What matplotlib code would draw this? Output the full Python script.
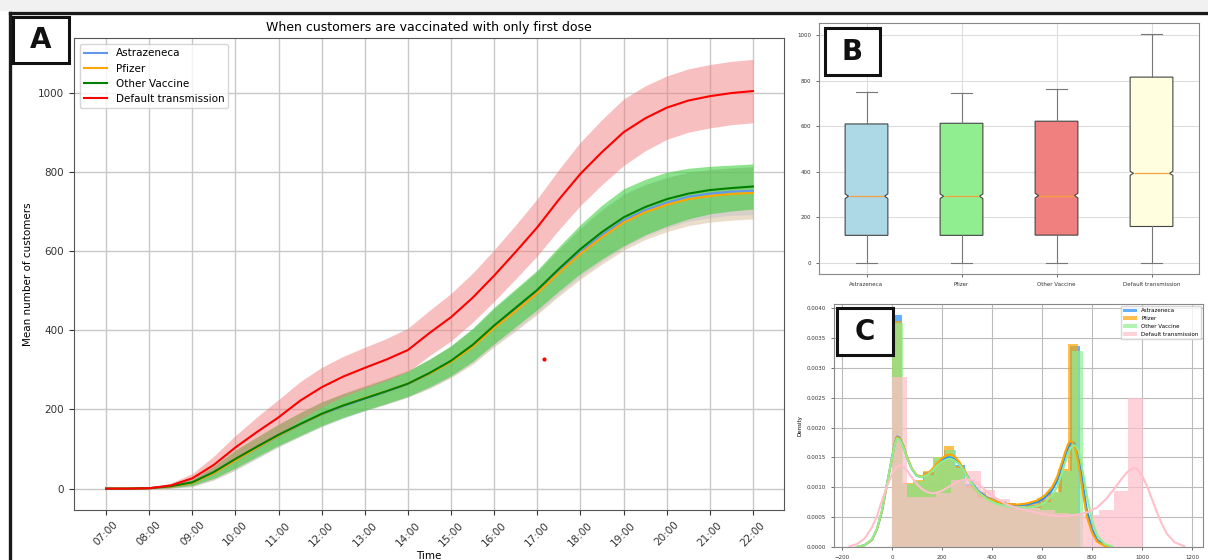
import numpy as np
import matplotlib.pyplot as plt
from matplotlib.patches import Rectangle
from matplotlib.lines import Line2D

# ---- A: mean customers through the day (half-hour samples) ----
t = [7.0, 7.5, 8.0, 8.5, 9.0, 9.5, 10.0, 10.5, 11.0, 11.5, 12.0, 12.5, 13.0, 13.5, 14.0,
     14.5, 15.0, 15.5, 16.0, 16.5, 17.0, 17.5, 18.0, 18.5, 19.0, 19.5, 20.0, 20.5, 21.0, 21.5, 22.0]

astra_mean = [0, 0, 1, 5, 14, 39, 71, 102, 133, 161, 187, 208, 227, 245, 264, 290,
              321, 360, 409, 452, 496, 548, 597, 640, 677, 703, 722, 737, 745, 750, 752]
astra_sd = [0, 0, 1, 4, 9, 17, 24, 26, 28, 30, 31, 31, 31, 32, 33, 36,
            39, 43, 47, 50, 52, 57, 62, 66, 68, 66, 64, 62, 61, 60, 60]
pfizer_mean = [0, 0, 1, 5, 14, 39, 71, 103, 134, 162, 188, 210, 229, 246, 265, 290,
               320, 358, 406, 449, 494, 545, 593, 635, 672, 698, 717, 731, 739, 744, 747]
pfizer_sd = [0, 0, 1, 4, 9, 17, 24, 26, 28, 30, 31, 31, 32, 33, 34, 37,
             40, 44, 48, 51, 54, 59, 64, 68, 70, 69, 68, 67, 66, 66, 66]
other_mean = [0, 0, 1, 6, 16, 42, 75, 106, 136, 163, 189, 210, 228, 246, 265, 292,
              323, 363, 412, 457, 502, 555, 605, 648, 685, 711, 731, 745, 754, 759, 763]
other_sd = [0, 0, 1, 4, 8, 16, 23, 25, 27, 29, 30, 30, 30, 31, 32, 35,
            38, 42, 46, 48, 50, 56, 62, 68, 72, 70, 68, 64, 60, 58, 57]
default_mean = [0, 0, 1, 8, 26, 60, 104, 143, 180, 222, 256, 283, 305, 326, 350, 393,
                433, 482, 538, 598, 660, 730, 795, 850, 900, 935, 962, 980, 991, 999, 1004]
default_sd = [0, 0, 2, 6, 12, 22, 30, 38, 45, 48, 50, 51, 52, 53, 55, 57,
              60, 62, 65, 68, 72, 76, 80, 82, 84, 82, 80, 80, 80, 80, 80]

stray_t, stray_v = 17.15, 327

hour_ticks = [7, 8, 9, 10, 11, 12, 13, 14, 15, 16, 17, 18, 19, 20, 21, 22]
hour_labels = ["07:00", "08:00", "09:00", "10:00", "11:00", "12:00", "13:00", "14:00",
               "15:00", "16:00", "17:00", "18:00", "19:00", "20:00", "21:00", "22:00"]

names = ["Astrazeneca", "Pfizer", "Other Vaccine", "Default transmission"]

# ---- B: box summaries ----
box_lo = [0, 0, 0, 0]
box_q1 = [120, 120, 121, 159]
box_med = [292, 292, 295, 393]
box_q3 = [610, 613, 622, 816]
box_hi = [752, 745, 764, 1004]
box_ci = [10, 10, 10, 9]

# ---- C: histogram densities (x1e-3) and kde curves ----
astra_max, pfizer_max, other_max, default_max = 752, 745, 764, 1005
astra_hist = [3.89, 1.05, 1.10, 1.25, 1.45, 1.62, 1.38, 1.05, 0.92, 0.82, 0.76, 0.72,
              0.70, 0.70, 0.78, 0.90, 1.28, 3.36]
pfizer_hist = [3.79, 1.07, 1.12, 1.27, 1.50, 1.69, 1.35, 1.02, 0.92, 0.83, 0.77, 0.73,
               0.72, 0.74, 0.82, 0.92, 1.30, 3.40]
other_hist = [3.76, 1.05, 1.10, 1.20, 1.50, 1.63, 1.32, 0.98, 0.82, 0.75, 0.70, 0.68,
              0.65, 0.66, 0.75, 0.92, 1.28, 3.28]
default_hist = [2.85, 0.84, 0.84, 0.90, 1.12, 1.27, 0.96, 0.80, 0.72, 0.66, 0.62, 0.57,
                0.56, 0.53, 0.62, 0.93, 2.50]

vacc_kde_x = [-140, -110, -80, -60, -40, -20, 0, 10, 20, 30, 45, 60, 80, 100, 120, 140,
              160, 180, 200, 220, 235, 250, 270, 290, 310, 330, 350, 380, 420, 460, 500,
              540, 580, 610, 640, 660, 680, 695, 705, 715, 725, 735, 745, 755, 765, 780,
              800, 820, 850, 880]
astra_kde = [0.00, 0.03, 0.12, 0.30, 0.60, 1.05, 1.50, 1.72, 1.85, 1.83, 1.70, 1.50, 1.30,
             1.19, 1.17, 1.21, 1.28, 1.37, 1.45, 1.50, 1.50, 1.47, 1.39, 1.27, 1.13, 1.01,
             0.92, 0.83, 0.76, 0.72, 0.70, 0.71, 0.75, 0.82, 0.95, 1.10, 1.35, 1.55, 1.67,
             1.75, 1.75, 1.70, 1.55, 1.30, 1.00, 0.60, 0.30, 0.12, 0.03, 0.00]
pfizer_kde = [0.00, 0.03, 0.12, 0.30, 0.60, 1.05, 1.49, 1.71, 1.84, 1.82, 1.70, 1.51, 1.31,
              1.20, 1.18, 1.22, 1.30, 1.40, 1.49, 1.54, 1.55, 1.52, 1.42, 1.28, 1.12, 0.99,
              0.90, 0.82, 0.76, 0.72, 0.71, 0.73, 0.78, 0.86, 1.00, 1.17, 1.42, 1.62, 1.73,
              1.78, 1.74, 1.62, 1.42, 1.15, 0.86, 0.50, 0.24, 0.09, 0.02, 0.00]
other_kde = [0.00, 0.03, 0.13, 0.31, 0.62, 1.06, 1.49, 1.70, 1.82, 1.80, 1.68, 1.49, 1.30,
             1.19, 1.17, 1.20, 1.27, 1.36, 1.43, 1.47, 1.48, 1.45, 1.38, 1.26, 1.12, 1.00,
             0.90, 0.80, 0.72, 0.68, 0.66, 0.66, 0.68, 0.74, 0.86, 1.00, 1.25, 1.45, 1.58,
             1.66, 1.70, 1.70, 1.62, 1.45, 1.22, 0.85, 0.45, 0.20, 0.05, 0.01]
default_kde_x = [-170, -140, -110, -80, -60, -40, -20, 0, 15, 30, 45, 60, 80, 100, 120, 140,
                 160, 180, 200, 220, 240, 260, 280, 300, 320, 340, 360, 380, 400, 430, 460,
                 500, 540, 580, 620, 660, 700, 740, 780, 820, 860, 890, 920, 940, 955, 970,
                 985, 1000, 1020, 1040, 1060, 1080, 1100, 1130, 1170]
default_kde = [0.01, 0.05, 0.14, 0.33, 0.52, 0.78, 1.02, 1.22, 1.33, 1.37, 1.35, 1.28, 1.16,
               1.05, 0.97, 0.92, 0.90, 0.91, 0.94, 0.99, 1.04, 1.09, 1.12, 1.13, 1.12, 1.07,
               1.00, 0.93, 0.86, 0.78, 0.71, 0.65, 0.61, 0.57, 0.54, 0.52, 0.52, 0.54, 0.58,
               0.66, 0.82, 0.98, 1.15, 1.25, 1.30, 1.32, 1.29, 1.20, 1.02, 0.80, 0.58, 0.38,
               0.22, 0.08, 0.01]

W, H = 1208, 560


def fig_rect(x0, y0, x1, y1):
    # pixel box (top-left origin) -> figure fraction [left, bottom, width, height]
    return [x0 / W, 1 - y1 / H, (x1 - x0) / W, (y1 - y0) / H]


fig = plt.figure(figsize=(W / 100, H / 100), dpi=100)

# outer frame: grey strip and thick top/left rules
fig.add_artist(Rectangle((0, 1 - 11 / H), 1, 11 / H, transform=fig.transFigure,
                         facecolor="#f1f1f1", edgecolor="none"))
fig.add_artist(Line2D([10 / W, 1], [1 - 13 / H, 1 - 13 / H], color="#1a1a1a", lw=2.4))
fig.add_artist(Line2D([10 / W, 10 / W], [0, 1 - 13 / H], color="#1a1a1a", lw=2.4))

# ---------------- panel A ----------------
axA = fig.add_axes(fig_rect(74, 38, 784, 510))
styles = [
    ("cornflowerblue", "cornflowerblue", 0.22),
    ("orange", "tan", 0.45),
    ("green", "limegreen", 0.55),
    ("red", "lightcoral", 0.5),
]
tt = np.array(t)
for name, m, s, (lc, fc, a) in zip(names,
                                   [astra_mean, pfizer_mean, other_mean, default_mean],
                                   [astra_sd, pfizer_sd, other_sd, default_sd], styles):
    m = np.array(m, dtype=float)
    s = np.array(s, dtype=float)
    axA.plot(tt, m, color=lc, lw=1.5, label=name)
    axA.fill_between(tt, m - s, m + s, color=fc, alpha=a, lw=0)
axA.plot([stray_t], [stray_v], ".", color="red", ms=4)

axA.set_xlim(6.257, 22.72)
axA.set_ylim(-54, 1138)
axA.set_xticks(hour_ticks)
axA.set_xticklabels(hour_labels, rotation=45)
axA.set_yticks([0, 200, 400, 600, 800, 1000])
axA.tick_params(labelsize=7.5, colors="#333333")
axA.grid(True, color="#c8c8c8", lw=1)
axA.set_axisbelow(True)
for sp in axA.spines.values():
    sp.set_color("#555555")
axA.set_title("When customers are vaccinated with only first dose", fontsize=9, pad=5)
axA.set_xlabel("Time", fontsize=7.5, labelpad=2)
axA.set_ylabel("Mean number of customers", fontsize=7.5)
axA.legend(loc="upper left", fontsize=7.5, handlelength=2.2, borderaxespad=0.6)

# ---------------- panel B ----------------
axB = fig.add_axes(fig_rect(819, 23, 1199, 274))
box_w = 0.45
stats = []
for i in range(4):
    stats.append(dict(label=names[i], whislo=box_lo[i], q1=box_q1[i], med=box_med[i],
                      q3=box_q3[i], whishi=box_hi[i], fliers=[],
                      cilo=box_med[i] - box_ci[i], cihi=box_med[i] + box_ci[i]))
bp = axB.bxp(stats, widths=box_w, patch_artist=True, shownotches=True,
             boxprops=dict(edgecolor="#444444", lw=0.8),
             whiskerprops=dict(color="#777777", lw=0.8),
             capprops=dict(color="#777777", lw=0.8),
             medianprops=dict(color="#f5a040", lw=0.9))
# shallower notches: pull the notch tips back towards the box sides
for k, (patch, c) in enumerate(zip(bp["boxes"],
                                   ["lightblue", "lightgreen", "lightcoral", "lightyellow"])):
    patch.set_facecolor(c)
    pos = k + 1
    inner = box_w * 0.42
    verts = patch.get_path().vertices
    verts[3, 0] = pos + inner
    verts[8, 0] = pos - inner
    bp["medians"][k].set_xdata([pos - inner, pos + inner])
axB.set_ylim(-50, 1054)
axB.set_yticks([0, 200, 400, 600, 800, 1000])
axB.tick_params(labelsize=4, length=2, width=0.5, colors="#333333")
axB.grid(True, color="#dddddd", lw=0.8)
axB.set_axisbelow(True)
for sp in axB.spines.values():
    sp.set_color("#888888")

# ---------------- panel C ----------------
axC = fig.add_axes(fig_rect(834, 304, 1203, 547))
hist_sets = [
    (astra_hist, astra_max, astra_kde, vacc_kde_x, "dodgerblue"),
    (pfizer_hist, pfizer_max, pfizer_kde, vacc_kde_x, "orange"),
    (other_hist, other_max, other_kde, vacc_kde_x, "lightgreen"),
    (default_hist, default_max, default_kde, default_kde_x, "pink"),
]
for name, (hv, vmax, kv, kx, c) in zip(names, hist_sets):
    edges = np.linspace(0, vmax, len(hv) + 1)
    axC.bar(edges[:-1], np.array(hv) * 1e-3, width=np.diff(edges), align="edge",
            color=c, alpha=0.7, lw=0, label=name)
    axC.plot(kx, np.array(kv) * 1e-3, color=c, lw=1.5)
axC.set_xlim(-232, 1244)
axC.set_ylim(0, 0.00407)
axC.set_xticks([-200, 0, 200, 400, 600, 800, 1000, 1200])
axC.set_yticks([0, 0.0005, 0.001, 0.0015, 0.002, 0.0025, 0.003, 0.0035, 0.004])
axC.yaxis.set_major_formatter(plt.FormatStrFormatter("%.4f"))
axC.tick_params(labelsize=4, length=2, width=0.5, colors="#333333")
axC.set_ylabel("Density", fontsize=4, labelpad=3)
axC.grid(True, color="#bbbbbb", lw=0.8)
axC.set_axisbelow(True)
for sp in axC.spines.values():
    sp.set_color("#888888")
axC.legend(loc="upper right", fontsize=4, borderaxespad=0.4, handlelength=2.5)

# panel letters
for letter, (x0, y0, x1, y1) in [("A", (13, 17, 69, 63)), ("B", (825, 28, 880, 75)),
                                  ("C", (837, 308, 893, 355))]:
    l, b, w, h = fig_rect(x0, y0, x1, y1)
    fig.add_artist(Rectangle((l, b), w, h, transform=fig.transFigure, facecolor="white",
                             edgecolor="#111111", lw=2.2, zorder=10))
    fig.text(l + w / 2, b + h / 2, letter, ha="center", va="center", fontsize=20,
             fontweight="bold", color="#111111", zorder=11)

fig.savefig("out.png", dpi=100)
